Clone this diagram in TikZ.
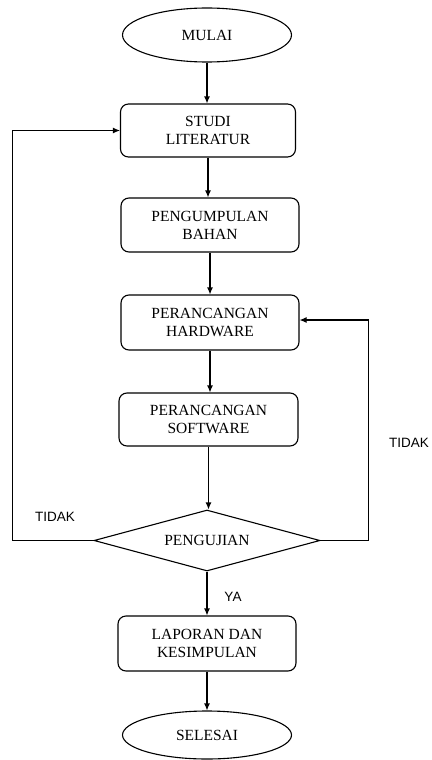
\documentclass[tikz,border=0pt]{standalone}
\usepackage{fontspec}
\setmainfont{Liberation Serif}
\newfontfamily\labelfont{Liberation Sans}
\usetikzlibrary{shapes.geometric,arrows.meta}
\begin{document}
\begin{tikzpicture}[x=1pt,y=-1pt,
  every node/.style={font=\fontsize{15.5}{18}\selectfont},
  proc/.style={draw, rounded corners=8pt, minimum width=177pt, minimum height=54pt, inner sep=0pt, align=center, line width=1.1pt},
  term/.style={draw, ellipse, minimum width=169pt, minimum height=54pt, inner sep=0pt, line width=1.1pt},
  dec/.style={draw, diamond, aspect=3.7, minimum width=226pt, minimum height=61pt, inner sep=0pt, line width=1.1pt},
  lbl/.style={font=\labelfont\fontsize{13.5}{16}\selectfont},
  arr/.style={-{Latex[length=7pt,width=6pt]}, line width=1.1pt},
]
\useasboundingbox (0,0) rectangle (431,760);
\node[term] (mulai) at (207,35) {MULAI};
\node[proc, minimum width=175pt, minimum height=53pt] (studi) at (208,130.5) {STUDI\\LITERATUR};
\node[proc, minimum width=178pt] (bahan) at (210,225) {PENGUMPULAN\\BAHAN};
\node[proc, minimum width=178pt, minimum height=55pt] (hw) at (210,322.5) {PERANCANGAN\\HARDWARE};
\node[proc, minimum width=179pt, minimum height=53pt] (sw) at (208.5,419.5) {PERANCANGAN\\SOFTWARE};
\node[dec] (uji) at (207,540.5) {PENGUJIAN};
\node[proc, minimum width=178pt, minimum height=55pt] (lap) at (207,643.5) {LAPORAN DAN\\KESIMPULAN};
\node[term, minimum height=48pt] (selesai) at (207,735) {SELESAI};

\draw[arr] (mulai.south) -- (mulai.south |- studi.north);
\draw[arr] (studi.south) -- (studi.south |- bahan.north);
\draw[arr] (bahan.south) -- (bahan.south |- hw.north);
\draw[arr] (hw.south) -- (hw.south |- sw.north);
\draw[arr] (sw.south) -- (sw.south |- uji.north);
\draw[arr] (uji.south) -- (uji.south |- lap.north);
\draw[arr] (lap.south) -- (lap.south |- selesai.north);
\draw[arr] (uji.west) -- ++(-81,0) |- (studi.west);
\draw[arr] (uji.east) -- ++(48,0) |- ([yshift=2.5pt]hw.east);

\node[lbl] (tl) at (55,517) {TIDAK};
\node[lbl] (tr) at (409,443) {TIDAK};
\node[lbl] (ya) at (233,597) {YA};
\end{tikzpicture}
\end{document}
